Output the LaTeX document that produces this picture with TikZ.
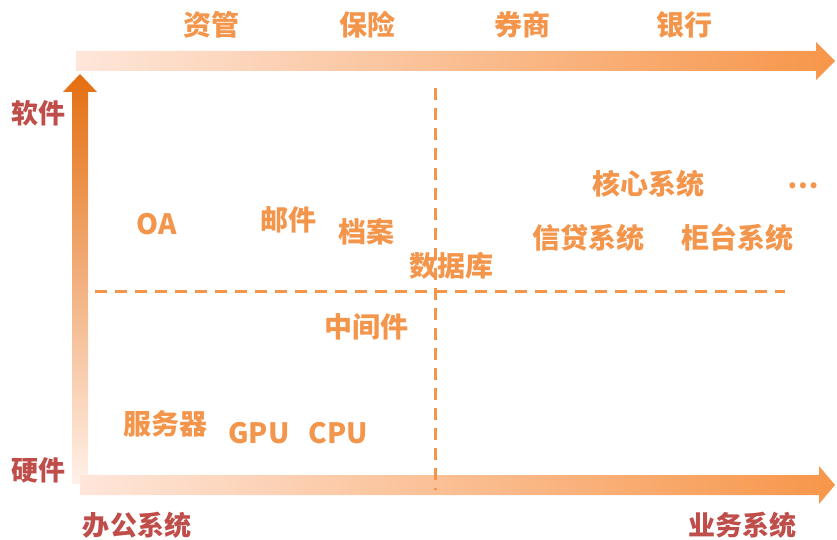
\documentclass[tikz,border=0pt]{standalone}
\usepackage{fontspec}
\setmainfont{Noto Sans CJK SC}
\definecolor{lbl}{HTML}{F4954C}
\definecolor{redl}{HTML}{BF4E4B}
\definecolor{arrR}{HTML}{F7964A}
\definecolor{arrL}{HTML}{FEE6DA}
\definecolor{vtop}{HTML}{E46E10}
\definecolor{vbot}{HTML}{FFF1E9}
\tikzset{
  lab/.style={text=lbl,font=\bfseries\fontsize{28bp}{30bp}\selectfont,inner sep=0pt},
  axl/.style={text=redl,font=\bfseries\fontsize{27bp}{29bp}\selectfont,inner sep=0pt},
  dline/.style={draw=lbl,line width=3bp,dash pattern=on 12bp off 8bp}
}
\begin{document}
\begin{tikzpicture}[x=1bp,y=-1bp]
\useasboundingbox (0,0) rectangle (837,540);
% vertical arrow
\shade[top color=vtop,bottom color=vbot] (80,74) -- (97,92) -- (88,92) -- (88,484) -- (72,484) -- (72,92) -- (63,92) -- cycle;
% top arrow
\shade[left color=arrL,right color=arrR] (76,51) -- (816,51) -- (816,42) -- (835,61) -- (816,80) -- (816,71) -- (76,71) -- cycle;
% bottom arrow
\shade[left color=arrL,right color=arrR] (80,475) -- (819,475) -- (819,466) -- (835,485) -- (819,504) -- (819,495) -- (80,495) -- cycle;
% dashed lines
\coordinate (v1) at (435,88);
\coordinate (v2) at (435,490);
\coordinate (h1) at (95,292);
\coordinate (h2) at (785,292);
\draw[dline] (v1) -- (v2);
\draw[dline] (h1) -- (h2);
% top labels
\node[lab] (t1) at (211,25) {资管};
\node[lab] (t2) at (367,25) {保险};
\node[lab] (t3) at (522,25) {券商};
\node[lab] (t4) at (684,25) {银行};
% axis labels
\node[axl] (soft) at (38,113) {软件};
\node[axl] (hard) at (38,470) {硬件};
\node[axl] (off) at (137,525) {办公系统};
\node[axl] (biz) at (742,525) {业务系统};
% inner labels
\node[lab] (oa) at (157,224) {OA};
\node[lab] (mail) at (288,220) {邮件};
\node[lab] (arch) at (366,232) {档案};
\node[lab] (db) at (451,266) {数据库};
\node[lab] (core) at (648,184) {核心系统};
\node[lab] (dots) at (803,186) {…};
\node[lab] (loan) at (588,238) {信贷系统};
\node[lab] (cnt) at (737,238) {柜台系统};
\node[lab] (mid) at (366,327) {中间件};
\node[lab] (srv) at (165,424) {服务器};
\node[lab] (gpu) at (259,433) {GPU};
\node[lab] (cpu) at (338,433) {CPU};
\end{tikzpicture}
\end{document}
